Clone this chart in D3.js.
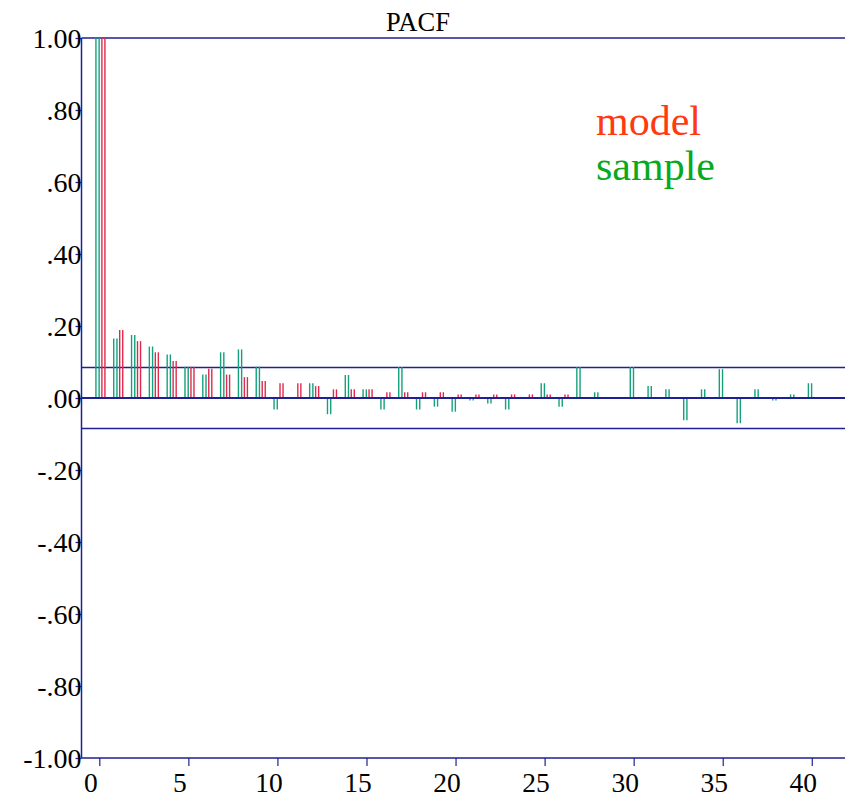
<!DOCTYPE html>
<html>
<head>
<meta charset="utf-8">
<script src="https://cdn.jsdelivr.net/npm/d3@7"></script>
<style>
  html, body { margin: 0; padding: 0; background: #fff; }
  svg { display: block; }
</style>
</head>
<body>
<svg id="chart" width="845" height="799"></svg>
<script>
// ---- data ----
const lags = d3.range(0, 41);
const sampleValues = [
  1.000, 0.165, 0.175, 0.143, 0.121, 0.087, 0.065, 0.127, 0.135, 0.087,
  -0.032, -0.003, 0.041, -0.045, 0.064, 0.024, -0.032, 0.086, -0.032, -0.024,
  -0.038, -0.007, -0.015, -0.032, 0.001, 0.041, -0.024, 0.086, 0.016, 0.002,
  0.086, 0.033, 0.024, -0.062, 0.024, 0.080, -0.070, 0.024, -0.007, 0.010,
  0.041
];
const modelValues = [
  1.000, 0.189, 0.158, 0.127, 0.103, 0.087, 0.081, 0.065, 0.058, 0.047,
  0.041, 0.041, 0.033, 0.024, 0.024, 0.024, 0.016, 0.016, 0.016, 0.016,
  0.010, 0.010, 0.010, 0.010, 0.010, 0.010, 0.010, 0.003, 0.002, 0.002,
  0.002, 0.002, 0.002, 0.002, 0.002, 0.002, 0.002, 0.002, 0.002, 0.002,
  0.002
];
const confBound = 0.085;
const yTickValues = [1.0, 0.8, 0.6, 0.4, 0.2, 0.0, -0.2, -0.4, -0.6, -0.8, -1.0];
const yTickLabels = ["1.00", ".80", ".60", ".40", ".20", ".00", "-.20", "-.40", "-.60", "-.80", "-1.00"];
const xTickValues = [0, 5, 10, 15, 20, 25, 30, 35, 40];
const legendItems = [
  { label: "model", color: "#ff3a10" },
  { label: "sample", color: "#07a920" }
];
const titleText = "PACF";

// ---- layout ----
const svg = d3.select("#chart");
const axisColor = "#1f1f96";
const greenColor = "#14a07c";
const redColor = "#e02a4c";
const font = "'Liberation Serif', 'Times New Roman', serif";

const x = d3.scaleLinear().domain([-1, 42]).range([81.5, 847.4]);
const y = d3.scaleLinear().domain([-1, 1]).range([758, 38]);
const plotRight = 845;

// title
svg.append("text")
  .attr("x", 418).attr("y", 31)
  .attr("text-anchor", "middle")
  .attr("font-family", font).attr("font-size", 26.5)
  .attr("fill", "#000")
  .text(titleText);

// horizontal reference lines: top border, confidence bounds
const hLines = [
  { v: 1.0, w: 1.3 },
  { v: confBound, w: 1.5 },
  { v: -confBound, w: 1.5 },
];
svg.selectAll("line.href").data(hLines).join("line")
  .attr("class", "href")
  .attr("x1", x(-1)).attr("x2", plotRight)
  .attr("y1", d => y(d.v)).attr("y2", d => y(d.v))
  .attr("stroke", axisColor).attr("stroke-width", d => d.w);

// bars: each drawn as two vertical lines
const barOffsets = {
  sample: [-0.19, -0.01],
  model: [0.145, 0.315]
};
function drawBars(values, offsets, color, cls) {
  const data = [];
  values.forEach((v, i) => {
    offsets.forEach(o => data.push({ lag: lags[i] + o, v }));
  });
  svg.selectAll("line." + cls).data(data).join("line")
    .attr("class", cls)
    .attr("x1", d => x(d.lag)).attr("x2", d => x(d.lag))
    .attr("y1", y(0)).attr("y2", d => y(d.v))
    .attr("stroke", color).attr("stroke-width", 1.4);
}
drawBars(sampleValues, barOffsets.sample, greenColor, "sample");
drawBars(modelValues, barOffsets.model, redColor, "model");

// zero line on top
svg.append("line")
  .attr("x1", x(-1)).attr("x2", plotRight)
  .attr("y1", y(0)).attr("y2", y(0))
  .attr("stroke", axisColor).attr("stroke-width", 2);

// left axis
const yAxis = d3.axisLeft(y)
  .tickValues(yTickValues)
  .tickFormat((d, i) => yTickLabels[i])
  .tickSize(6).tickPadding(-6);
const gy = svg.append("g").attr("transform", `translate(${x(-1)},0)`).call(yAxis);
gy.select(".domain").attr("stroke", axisColor).attr("stroke-width", 1.5)
  .attr("d", `M0,${y(1)}V${y(-1)}`);
gy.selectAll(".tick line").attr("stroke", axisColor).attr("stroke-width", 1.2);
gy.selectAll(".tick text")
  .attr("font-family", font).attr("font-size", 28).attr("fill", "#000")
  .attr("dy", "0.34em");

// bottom axis
const xAxis = d3.axisBottom(x)
  .tickValues(xTickValues)
  .tickFormat(d3.format("d"))
  .tickSize(8).tickPadding(4);
const gx = svg.append("g").attr("transform", `translate(0,${y(-1)})`).call(xAxis);
gx.select(".domain").attr("stroke", axisColor).attr("stroke-width", 1.3)
  .attr("d", `M${x(-1)},0H${plotRight}`);
gx.selectAll(".tick line").attr("stroke", axisColor).attr("stroke-width", 1.2);
gx.selectAll(".tick text")
  .attr("font-family", font).attr("font-size", 27.5).attr("fill", "#000")
  .attr("x", -9).attr("dy", "0.8em");

// legend
svg.selectAll("text.legend").data(legendItems).join("text")
  .attr("class", "legend")
  .attr("x", 596).attr("y", (d, i) => 135 + i * 45)
  .attr("font-family", font).attr("font-size", 42)
  .attr("fill", d => d.color)
  .text(d => d.label);
</script>
</body>
</html>
